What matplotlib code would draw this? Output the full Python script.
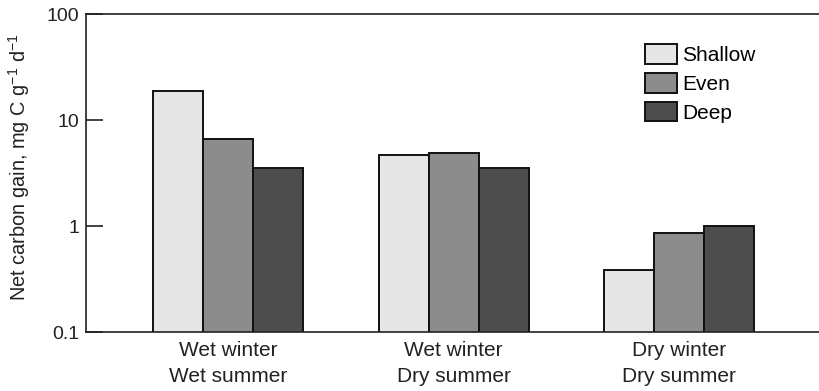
import matplotlib
matplotlib.use("Agg")
import matplotlib.pyplot as plt
import numpy as np

plt.rcParams['font.family'] = ['Liberation Sans', 'DejaVu Sans']
plt.rcParams['mathtext.default'] = 'regular'

# net carbon gain per rooting pattern, for each rainfall scenario
groups = ['Wet winter\nWet summer', 'Wet winter\nDry summer', 'Dry winter\nDry summer']
shallow = [18.7, 4.7, 0.385]
even = [6.6, 4.9, 0.87]
deep = [3.55, 3.55, 1.0]
series = [('Shallow', shallow, '#e6e6e6'),
          ('Even', even, '#8c8c8c'),
          ('Deep', deep, '#4d4d4d')]

fig = plt.figure(figsize=(8.19, 3.91), dpi=100)
ax = fig.add_axes([0.105, 0.150, 0.895, 0.814])

x = np.arange(len(groups))
w = 0.222
for i, (name, vals, col) in enumerate(series):
    ax.bar(x + (i - 1) * w, vals, w, color=col,
           edgecolor='#111111', linewidth=1.4, label=name)

ax.set_yscale('log')
ax.set_ylim(0.1, 100)
ax.set_xlim(-0.63, 2.62)
ax.set_yticks([0.1, 1, 10, 100])
ax.set_yticklabels(['0.1', '1', '10', '100'])
ax.yaxis.set_minor_locator(matplotlib.ticker.NullLocator())
ax.tick_params(axis='y', direction='in', length=12, width=1.2,
               labelsize=14, colors='#222222', pad=5)
ax.set_xticks(x)
ax.set_xticklabels(groups, fontsize=15, color='#222222', linespacing=1.5)
ax.tick_params(axis='x', length=0, pad=6)

ax.spines['right'].set_visible(False)
for s in ['left', 'top', 'bottom']:
    ax.spines[s].set_linewidth(1.2)
    ax.spines[s].set_color('#222222')

ax.set_ylabel('Net carbon gain, mg C g$^{-1}$ d$^{-1}$', fontsize=14.4,
              color='#222222')
ax.yaxis.set_label_coords(-0.073, 0.52)

ax.legend(loc='upper left', bbox_to_anchor=(0.7626, 0.905), frameon=False,
          fontsize=15, handlelength=1.54, handleheight=1.06,
          labelspacing=0.38, handletextpad=0.24, borderaxespad=0,
          borderpad=0)

fig.savefig('out.png', dpi=100)
